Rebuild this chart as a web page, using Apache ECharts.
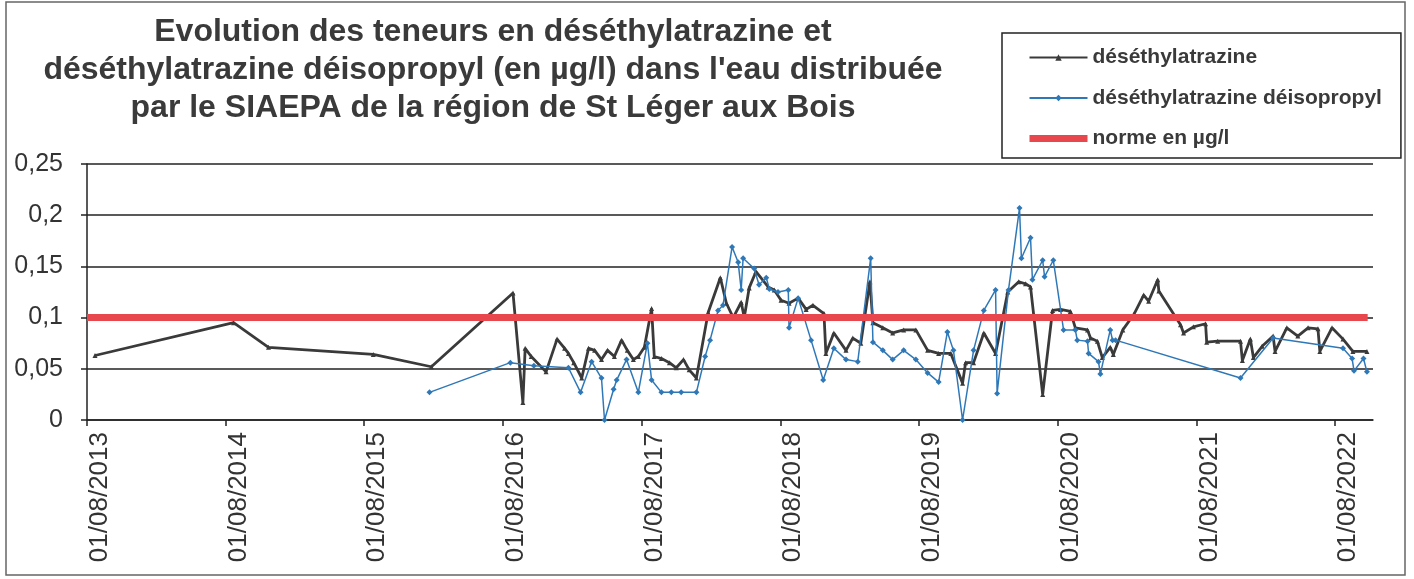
<!DOCTYPE html>
<html>
<head>
<meta charset="utf-8">
<script src="https://cdn.jsdelivr.net/npm/echarts@6/dist/echarts.min.js"></script>
<style>
  html, body { margin: 0; padding: 0; background: #fff; }
  #chart { width: 1414px; height: 579px; }
</style>
</head>
<body>
<div id="chart"></div>
<script>
// déséthylatrazine (courbe noire)
var deaDates = [
  '2013-08-22', '2014-08-22', '2014-11-22', '2015-08-25', '2016-01-25', '2016-08-27', '2016-09-22', '2016-09-28',
  '2016-10-14', '2016-11-22', '2016-12-21', '2017-01-10', '2017-01-20', '2017-02-03', '2017-02-24', '2017-03-14',
  '2017-03-30', '2017-04-17', '2017-05-03', '2017-05-21', '2017-06-09', '2017-06-24', '2017-07-10', '2017-07-23',
  '2017-08-08', '2017-08-27', '2017-09-03', '2017-09-22', '2017-10-13', '2017-10-31', '2017-11-19', '2017-12-04',
  '2017-12-23', '2018-01-23', '2018-02-24', '2018-03-12', '2018-03-30', '2018-04-20', '2018-04-28', '2018-05-11',
  '2018-05-29', '2018-06-30', '2018-07-16', '2018-08-03', '2018-08-24', '2018-09-17', '2018-10-08', '2018-10-26',
  '2018-11-24', '2018-11-29', '2018-12-20', '2019-01-21', '2019-02-08', '2019-03-01', '2019-03-25', '2019-04-02',
  '2019-04-28', '2019-05-24', '2019-06-22', '2019-07-24', '2019-08-24', '2019-09-22', '2019-10-24', '2019-11-24',
  '2019-12-02', '2019-12-23', '2020-01-19', '2020-02-19', '2020-03-22', '2020-04-20', '2020-05-08', '2020-05-21',
  '2020-06-22', '2020-07-18', '2020-08-08', '2020-09-03', '2020-09-16', '2020-10-18', '2020-10-26', '2020-11-13',
  '2020-11-26', '2020-12-17', '2020-12-25', '2021-01-19', '2021-02-17', '2021-03-15', '2021-03-28', '2021-04-21',
  '2021-04-24', '2021-06-20', '2021-06-28', '2021-07-24', '2021-08-25', '2021-08-28', '2021-09-26', '2021-11-25',
  '2021-11-30', '2021-12-21', '2021-12-29', '2022-01-21', '2022-02-19', '2022-02-24', '2022-03-27', '2022-04-25',
  '2022-05-22', '2022-06-17', '2022-06-22', '2022-07-24', '2022-08-22', '2022-09-17', '2022-10-24'
];
var deaValues = [
  0.063, 0.095, 0.071, 0.064, 0.052, 0.124, 0.017, 0.070,
  0.062, 0.047, 0.079, 0.070, 0.065, 0.056, 0.041, 0.070,
  0.068, 0.059, 0.068, 0.062, 0.078, 0.068, 0.059, 0.062,
  0.071, 0.109, 0.062, 0.060, 0.056, 0.051, 0.059, 0.049,
  0.041, 0.105, 0.139, 0.114, 0.100, 0.115, 0.100, 0.129,
  0.145, 0.130, 0.127, 0.117, 0.114, 0.119, 0.108, 0.112,
  0.104, 0.065, 0.085, 0.068, 0.080, 0.075, 0.135, 0.095,
  0.090, 0.085, 0.088, 0.088, 0.068, 0.065, 0.065, 0.036,
  0.056, 0.056, 0.085, 0.065, 0.125, 0.135, 0.133, 0.130,
  0.025, 0.107, 0.108, 0.106, 0.090, 0.088, 0.080, 0.077,
  0.061, 0.071, 0.064, 0.088, 0.103, 0.122, 0.116, 0.137,
  0.126, 0.093, 0.085, 0.091, 0.094, 0.076, 0.077, 0.077,
  0.058, 0.079, 0.061, 0.072, 0.082, 0.067, 0.090, 0.082,
  0.090, 0.089, 0.067, 0.090, 0.079, 0.067, 0.067
];

// déséthylatrazine déisopropyl (courbe bleue)
var deaipDates = [
  '2016-01-20', '2016-08-20', '2016-10-21', '2017-01-20', '2017-02-21', '2017-03-22', '2017-04-17', '2017-04-25',
  '2017-05-19', '2017-05-27', '2017-06-22', '2017-07-23', '2017-08-16', '2017-08-27', '2017-09-22', '2017-10-18',
  '2017-11-13', '2017-12-23', '2018-01-15', '2018-01-28', '2018-02-18', '2018-03-03', '2018-03-27', '2018-04-12',
  '2018-04-20', '2018-04-25', '2018-05-24', '2018-06-06', '2018-06-25', '2018-07-03', '2018-07-26', '2018-08-22',
  '2018-08-24', '2018-09-17', '2018-10-21', '2018-11-22', '2018-12-20', '2019-01-21', '2019-02-21', '2019-03-27',
  '2019-04-02', '2019-04-28', '2019-05-24', '2019-06-22', '2019-07-24', '2019-08-24', '2019-09-22', '2019-10-15',
  '2019-10-31', '2019-11-24', '2019-12-23', '2020-01-19', '2020-02-19', '2020-02-23', '2020-03-24', '2020-04-22',
  '2020-04-27', '2020-05-21', '2020-05-26', '2020-06-22', '2020-06-27', '2020-07-20', '2020-08-16', '2020-09-16',
  '2020-09-21', '2020-10-18', '2020-10-21', '2020-11-16', '2020-11-21', '2020-12-17', '2020-12-23', '2020-12-31',
  '2021-11-25', '2022-02-19', '2022-08-22', '2022-09-15', '2022-09-20', '2022-10-15', '2022-10-24'
];
var deaipValues = [
  0.027, 0.056, 0.053, 0.051, 0.027, 0.057, 0.041, 0.000,
  0.030, 0.039, 0.059, 0.027, 0.075, 0.039, 0.027, 0.027,
  0.027, 0.027, 0.062, 0.078, 0.107, 0.112, 0.169, 0.154,
  0.127, 0.158, 0.148, 0.132, 0.139, 0.128, 0.125, 0.127,
  0.090, 0.119, 0.078, 0.039, 0.070, 0.059, 0.057, 0.158,
  0.076, 0.068, 0.059, 0.068, 0.059, 0.046, 0.037, 0.086,
  0.068, 0.000, 0.068, 0.107, 0.127, 0.026, 0.127, 0.207,
  0.158, 0.178, 0.137, 0.156, 0.140, 0.156, 0.088, 0.088,
  0.078, 0.077, 0.065, 0.057, 0.045, 0.088, 0.078, 0.078,
  0.041, 0.080, 0.070, 0.060, 0.048, 0.060, 0.047
];

// norme en µg/l
var normeDates = ['2013-08-01', '2022-10-26'];
var normeValues = [0.1, 0.1];

var tickYears = [2013, 2014, 2015, 2016, 2017, 2018, 2019, 2020, 2021, 2022];

// 'YYYY-MM-DD' -> timestamp
function ts(s) {
  var p = s.split('-');
  return new Date(+p[0], +p[1] - 1, +p[2]).getTime();
}
function zip(dates, vals) {
  return dates.map(function (d, i) { return [ts(d), vals[i]]; });
}

var tickValues = tickYears.map(function (y) { return ts(y + '-08-01'); });
var fontFam = '"Liberation Sans", Arial, sans-serif';

var chart = echarts.init(document.getElementById('chart'));
var option = {
  animation: false,
  backgroundColor: '#fff',
  textStyle: { fontFamily: fontFam },
  title: {
    text: 'Evolution des teneurs en déséthylatrazine et\ndéséthylatrazine déisopropyl (en µg/l) dans l\'eau distribuée\npar le SIAEPA de la région de St Léger aux Bois',
    left: 488,
    top: 8,
    textAlign: 'center',
    textStyle: {
      fontFamily: fontFam,
      fontSize: 32,
      fontWeight: 'bold',
      color: '#3a3a3a',
      lineHeight: 38,
      align: 'center'
    }
  },
  legend: {
    orient: 'vertical',
    left: 1002,
    top: 33,
    padding: [14, 19, 9, 24],
    itemWidth: 58,
    itemHeight: 8,
    itemGap: 19.5,
    borderColor: '#222',
    borderWidth: 1.5,
    textStyle: { fontFamily: fontFam, fontSize: 21, fontWeight: 'bold', color: '#3a3a3a' },
    data: [
      { name: 'déséthylatrazine' },
      { name: 'déséthylatrazine déisopropyl' },
      { name: 'norme en µg/l', itemStyle: { opacity: 0 }, lineStyle: { width: 7 } }
    ]
  },
  grid: { left: 87, right: 41, top: 164, bottom: 159 },
  xAxis: {
    type: 'value',
    min: ts('2013-08-01'),
    max: ts('2022-11-09'),
    axisLine: { lineStyle: { color: '#222', width: 1.5 } },
    axisTick: { show: true, length: 6, customValues: tickValues, lineStyle: { color: '#222', width: 1.5 } },
    splitLine: { show: false },
    axisLabel: {
      customValues: tickValues,
      rotate: 90,
      margin: 12,
      verticalAlign: 'top',
      fontSize: 26,
      color: '#333',
      fontFamily: fontFam,
      formatter: function (v) { return '01/08/' + new Date(v).getFullYear(); }
    }
  },
  yAxis: {
    type: 'value',
    min: 0,
    max: 0.25,
    interval: 0.05,
    axisLine: { show: true, lineStyle: { color: '#222', width: 1.5 } },
    axisTick: { show: true, length: 6, lineStyle: { color: '#222', width: 1.5 } },
    splitLine: { lineStyle: { color: '#222', width: 1.5 } },
    axisLabel: {
      margin: 24,
      fontSize: 25,
      color: '#333',
      fontFamily: fontFam,
      formatter: function (v) { return String(parseFloat(v.toFixed(2))).replace('.', ','); }
    }
  },
  series: [
    {
      name: 'déséthylatrazine',
      type: 'line',
      data: zip(deaDates, deaValues),
      symbol: 'triangle',
      symbolSize: 5,
      lineStyle: { color: '#3a3a3a', width: 2.8 },
      itemStyle: { color: '#3a3a3a' },
      z: 2
    },
    {
      name: 'déséthylatrazine déisopropyl',
      type: 'line',
      data: zip(deaipDates, deaipValues),
      symbol: 'diamond',
      symbolSize: 6,
      lineStyle: { color: '#2f78b8', width: 1.5 },
      itemStyle: { color: '#2f78b8' },
      z: 3
    },
    {
      name: 'norme en µg/l',
      type: 'line',
      data: zip(normeDates, normeValues),
      symbol: 'none',
      lineStyle: { color: '#e8484d', width: 7 },
      itemStyle: { color: '#e8484d' },
      z: 4
    }
  ],
  graphic: [
    {
      type: 'rect',
      shape: { x: 6, y: 2, width: 1399, height: 573 },
      style: { fill: null, stroke: '#666', lineWidth: 1.5 },
      silent: true
    }
  ]
};
chart.setOption(option);
</script>
</body>
</html>
